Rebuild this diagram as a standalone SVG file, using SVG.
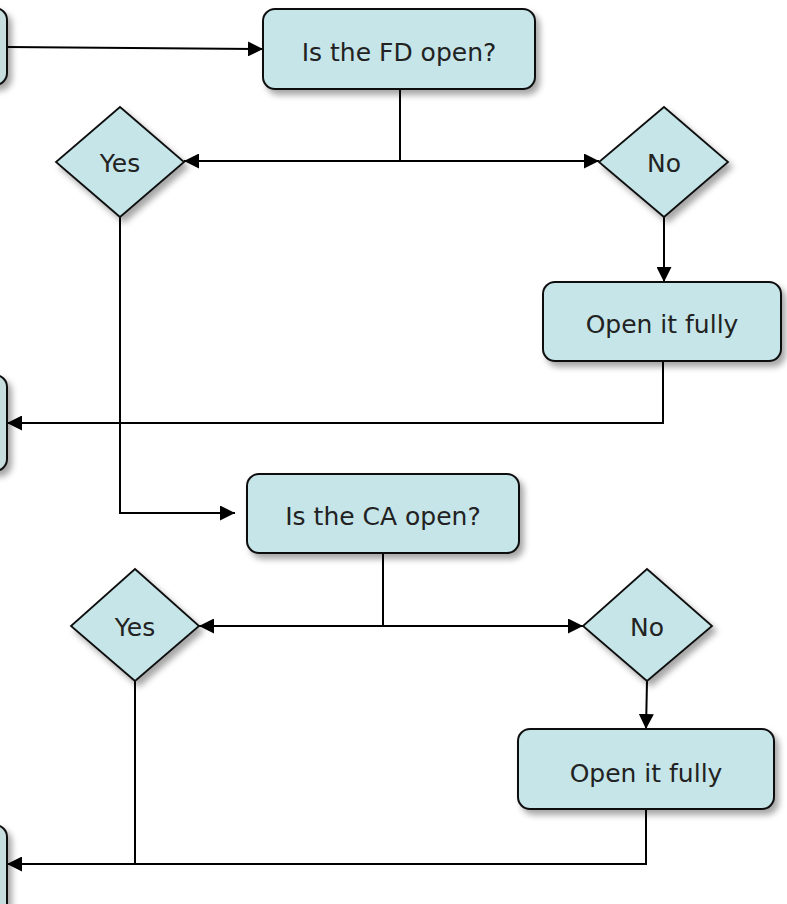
<svg xmlns="http://www.w3.org/2000/svg" width="787" height="904" viewBox="0 0 787 904">
<style>
.box{fill:#c5e5e8;stroke:#111;stroke-width:2;filter:url(#sh)}
.side{fill:#c7dedf;stroke:#111;stroke-width:2;filter:url(#sh)}
.dia{fill:#c5e5e8;stroke:#111;stroke-width:1.8;filter:url(#sh)}
.lbl{font-family:"DejaVu Sans",sans-serif;font-size:25px;fill:#222;text-anchor:middle}
.con{fill:none;stroke:#000;stroke-width:2}
</style>
<defs>
<filter id="sh" x="-20%" y="-20%" width="150%" height="150%">
<feDropShadow dx="4" dy="5" stdDeviation="3" flood-color="#000" flood-opacity="0.35"/>
</filter>
<marker id="ah" viewBox="0 0 15 15" refX="15" refY="7.5" markerWidth="15" markerHeight="15" markerUnits="userSpaceOnUse" orient="auto">
<path d="M0,0 L15,7.5 L0,15 z" fill="#000"/>
</marker>
</defs>
<rect width="787" height="904" fill="#fff"/>
<g id="connectors">
<path class="con" d="M7,47 L263,49" marker-end="url(#ah)"/>
<path class="con" d="M400,89 V161 H184" marker-end="url(#ah)"/>
<path class="con" d="M400,161 H599" marker-end="url(#ah)"/>
<path class="con" d="M664,217 V282" marker-end="url(#ah)"/>
<path class="con" d="M663,361 V423 H7" marker-end="url(#ah)"/>
<path class="con" d="M120,217 V513 H235" marker-end="url(#ah)"/>
<path class="con" d="M383,553 V626 H199" marker-end="url(#ah)"/>
<path class="con" d="M383,626 H583" marker-end="url(#ah)"/>
<path class="con" d="M647,681 L646,729" marker-end="url(#ah)"/>
<path class="con" d="M135,681 V863"/>
<path class="con" d="M646,809 V864 H7" marker-end="url(#ah)"/>
</g>
<g id="side1"><rect class="side" x="-100" y="8" width="107" height="77" rx="12"/></g>
<g id="side2"><rect class="side" x="-100" y="375" width="107" height="96" rx="12"/></g>
<g id="side3"><rect class="side" x="-100" y="825" width="107" height="100" rx="12"/></g>
<g id="fd"><rect class="box" x="263" y="9" width="272" height="80" rx="12"/><text class="lbl" x="399" y="61">Is the FD open?</text></g>
<g id="yes1"><polygon class="dia" points="120,107 184,162 120,217 56,162"/><text class="lbl" x="120" y="172">Yes</text></g>
<g id="no1"><polygon class="dia" points="664,107 728,162 664,217 599,162"/><text class="lbl" x="664" y="172">No</text></g>
<g id="open1"><rect class="box" x="543" y="282" width="238" height="79" rx="12"/><text class="lbl" x="662" y="333">Open it fully</text></g>
<g id="ca"><rect class="box" x="247" y="474" width="272" height="79" rx="12"/><text class="lbl" x="383" y="525">Is the CA open?</text></g>
<g id="yes2"><polygon class="dia" points="135,569 199,626 135,681 71,626"/><text class="lbl" x="135" y="636">Yes</text></g>
<g id="no2"><polygon class="dia" points="647,569 712,626 647,681 583,626"/><text class="lbl" x="647" y="636">No</text></g>
<g id="open2"><rect class="box" x="518" y="729" width="256" height="80" rx="12"/><text class="lbl" x="646" y="782">Open it fully</text></g>
</svg>
